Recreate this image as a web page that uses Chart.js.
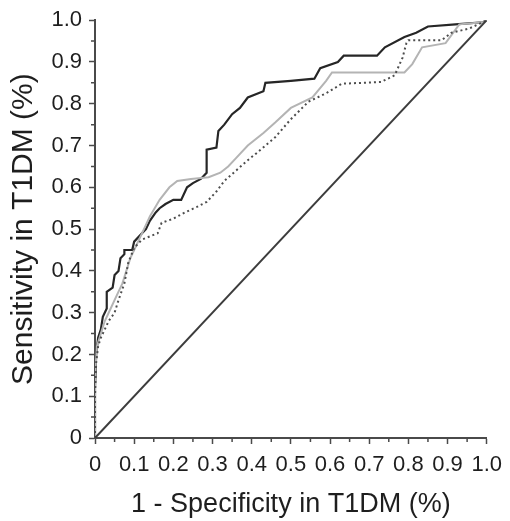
<!DOCTYPE html>
<html>
<head>
<meta charset="utf-8">
<script src="https://cdn.jsdelivr.net/npm/chart.js@4"></script>
<style>
  html, body { margin: 0; padding: 0; background: #fff; }
  canvas { display: block; }
</style>
</head>
<body>
<canvas id="roc" width="510" height="521"></canvas>
<script>
// ROC curves, T1DM: three models plus the chance line

// ── Data ──────────────────────────────────────────────────────────────────
const xTicks = [0, 0.1, 0.2, 0.3, 0.4, 0.5, 0.6, 0.7, 0.8, 0.9, 1.0];
const yTicks = [0, 0.1, 0.2, 0.3, 0.4, 0.5, 0.6, 0.7, 0.8, 0.9, 1.0];

// dark solid curve [1-spec, sens]
const curveDark = [
  [0, 0], [0, 0.12], [0.003, 0.2], [0.008, 0.24], [0.015, 0.26], [0.02, 0.29],
  [0.03, 0.31], [0.03, 0.35], [0.045, 0.36], [0.05, 0.39], [0.06, 0.40],
  [0.065, 0.43], [0.075, 0.44], [0.075, 0.45], [0.095, 0.45], [0.1, 0.47],
  [0.12, 0.49], [0.13, 0.50], [0.14, 0.52], [0.155, 0.54], [0.165, 0.55],
  [0.18, 0.56], [0.2, 0.57], [0.22, 0.57], [0.235, 0.60], [0.25, 0.61],
  [0.27, 0.62], [0.285, 0.635], [0.285, 0.69], [0.31, 0.695], [0.315, 0.735],
  [0.33, 0.75], [0.35, 0.775], [0.37, 0.79], [0.39, 0.815], [0.43, 0.83],
  [0.435, 0.85], [0.50, 0.855], [0.56, 0.86], [0.575, 0.885], [0.62, 0.90],
  [0.635, 0.915], [0.72, 0.915], [0.74, 0.935], [0.79, 0.96], [0.82, 0.97],
  [0.85, 0.985], [0.92, 0.99], [0.99, 0.995], [1, 1]
];

// light grey solid curve
const curveLight = [
  [0, 0], [0, 0.15], [0.005, 0.22], [0.015, 0.25], [0.025, 0.28], [0.04, 0.31],
  [0.055, 0.34], [0.07, 0.37], [0.08, 0.40], [0.09, 0.43], [0.1, 0.45],
  [0.11, 0.47], [0.125, 0.50], [0.14, 0.53], [0.165, 0.57], [0.19, 0.60],
  [0.21, 0.615], [0.245, 0.62], [0.29, 0.624], [0.32, 0.635], [0.34, 0.65],
  [0.36, 0.67], [0.39, 0.70], [0.43, 0.73], [0.46, 0.755], [0.5, 0.79],
  [0.555, 0.815], [0.59, 0.855], [0.605, 0.875], [0.79, 0.875], [0.81, 0.895],
  [0.835, 0.935], [0.895, 0.945], [0.93, 0.99], [0.99, 0.995], [1, 1]
];

// dotted curve
const curveDotted = [
  [0, 0], [0, 0.1], [0.003, 0.18], [0.008, 0.22], [0.015, 0.24], [0.025, 0.26],
  [0.035, 0.28], [0.05, 0.30], [0.06, 0.33], [0.075, 0.37], [0.085, 0.42],
  [0.1, 0.455], [0.12, 0.475], [0.16, 0.49], [0.17, 0.515], [0.2, 0.525],
  [0.23, 0.54], [0.26, 0.553], [0.285, 0.565], [0.31, 0.59], [0.33, 0.615],
  [0.36, 0.64], [0.39, 0.665], [0.41, 0.68], [0.46, 0.72], [0.5, 0.763],
  [0.545, 0.805], [0.59, 0.825], [0.63, 0.848], [0.73, 0.852], [0.765, 0.868],
  [0.785, 0.91], [0.795, 0.945], [0.80, 0.952], [0.885, 0.952], [0.91, 0.97],
  [0.955, 0.98], [0.99, 0.995], [1, 1]
];

const chanceLine = [[0, 0], [1, 1]];

// ── Helpers ───────────────────────────────────────────────────────────────
const toXY = arr => arr.map(([x, y]) => ({ x, y }));
const fmtTick = v => (Math.abs(v) < 1e-9 ? '0' : Number(v).toFixed(1));

const AXIS = '#4a4a4a';
const FONT = "'Liberation Sans', Arial, sans-serif";

// short minor ticks between the labelled ones
const minorTicks = {
  id: 'minorTicks',
  afterDraw(chart) {
    const { ctx, scales: { x, y } } = chart;
    ctx.save();
    ctx.strokeStyle = AXIS;
    ctx.lineWidth = 1.5;
    ctx.beginPath();
    for (let i = 0; i < xTicks.length - 1; i++) {
      const px = x.getPixelForValue((xTicks[i] + xTicks[i + 1]) / 2);
      ctx.moveTo(px, x.top);
      ctx.lineTo(px, x.top + 4);
      const py = y.getPixelForValue((yTicks[i] + yTicks[i + 1]) / 2);
      ctx.moveTo(y.right, py);
      ctx.lineTo(y.right - 4, py);
    }
    ctx.stroke();
    ctx.restore();
  }
};

// ── Chart ─────────────────────────────────────────────────────────────────
new Chart(document.getElementById('roc').getContext('2d'), {
  type: 'scatter',
  data: {
    datasets: [
      {
        label: 'chance',
        data: toXY(chanceLine),
        showLine: true,
        borderColor: '#3c3c3c',
        borderWidth: 2,
        pointRadius: 0,
      },
      {
        label: 'dotted',
        data: toXY(curveDotted),
        showLine: true,
        borderColor: '#4d4d4d',
        borderWidth: 2,
        borderDash: [2, 3],
        pointRadius: 0,
      },
      {
        label: 'light',
        data: toXY(curveLight),
        showLine: true,
        borderColor: '#b4b4b4',
        borderWidth: 2,
        pointRadius: 0,
      },
      {
        label: 'dark',
        data: toXY(curveDark),
        showLine: true,
        borderColor: '#262626',
        borderWidth: 2.2,
        pointRadius: 0,
      },
    ]
  },
  options: {
    responsive: false,
    animation: false,
    devicePixelRatio: 1,
    layout: { padding: { top: 20, right: 20, left: 0, bottom: 0 } },
    plugins: { legend: { display: false }, tooltip: { enabled: false } },
    scales: {
      x: {
        type: 'linear',
        min: 0, max: 1,
        afterFit: s => { s.height = 83; },
        afterBuildTicks: s => { s.ticks = xTicks.map(v => ({ value: v })); },
        ticks: {
          autoSkip: false, maxRotation: 0, padding: 8,
          color: '#1e1e1e', font: { family: FONT, size: 22 },
          callback: fmtTick,
        },
        grid: { drawOnChartArea: false, tickLength: 6, tickColor: AXIS, tickWidth: 1.5 },
        border: { color: AXIS, width: 2 },
        title: {
          display: true, text: '1 - Specificity in T1DM (%)',
          color: '#1e1e1e', font: { family: FONT, size: 27 }, padding: { top: 0, bottom: 0 },
        },
      },
      y: {
        type: 'linear',
        min: 0, max: 1,
        afterFit: s => { s.width = 95; },
        afterBuildTicks: s => { s.ticks = yTicks.map(v => ({ value: v })); },
        ticks: {
          autoSkip: false, padding: 7,
          color: '#1e1e1e', font: { family: FONT, size: 22 },
          callback: fmtTick,
        },
        grid: { drawOnChartArea: false, tickLength: 6, tickColor: AXIS, tickWidth: 1.5 },
        border: { color: AXIS, width: 2 },
        title: {
          display: true, text: 'Sensitivity in T1DM (%)',
          color: '#1e1e1e', font: { family: FONT, size: 30 }, padding: { top: 6, bottom: 0 },
        },
      },
    }
  },
  plugins: [minorTicks]
});
</script>
</body>
</html>
